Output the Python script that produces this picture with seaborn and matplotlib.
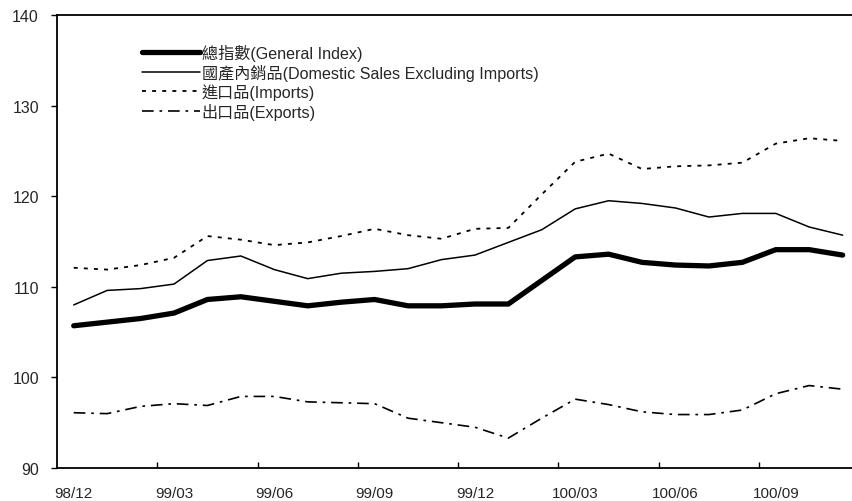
#!/usr/bin/env python3
# -*- coding: utf-8 -*-
"""Price index trend chart (General / Domestic / Imports / Exports), 98/12 - 100/11."""

import matplotlib
matplotlib.use("Agg")
import matplotlib.pyplot as plt  # noqa: E402
from matplotlib.ticker import FixedLocator  # noqa: E402
import pandas as pd  # noqa: E402
import seaborn as sns  # noqa: E402

# =============================================================================
# DATA
# =============================================================================
months = [
    "98/12", "99/01", "99/02", "99/03", "99/04", "99/05", "99/06", "99/07",
    "99/08", "99/09", "99/10", "99/11", "99/12", "100/01", "100/02", "100/03",
    "100/04", "100/05", "100/06", "100/07", "100/08", "100/09", "100/10", "100/11",
]
general_index = [105.7, 106.1, 106.5, 107.1, 108.6, 108.9, 108.4, 107.9,
                 108.3, 108.6, 107.9, 107.9, 108.1, 108.1, 110.7, 113.3,
                 113.6, 112.7, 112.4, 112.3, 112.7, 114.1, 114.1, 113.5]
domestic_sales = [108.0, 109.6, 109.8, 110.3, 112.9, 113.4, 111.9, 110.9,
                  111.5, 111.7, 112.0, 113.0, 113.5, 114.9, 116.3, 118.6,
                  119.5, 119.2, 118.7, 117.7, 118.1, 118.1, 116.6, 115.7]
imports = [112.1, 111.9, 112.4, 113.2, 115.6, 115.2, 114.6, 114.9,
           115.6, 116.4, 115.7, 115.3, 116.4, 116.5, 120.2, 123.8,
           124.7, 123.0, 123.3, 123.4, 123.7, 125.8, 126.4, 126.1]
exports = [96.1, 96.0, 96.8, 97.1, 96.9, 97.9, 97.9, 97.3,
           97.2, 97.1, 95.5, 95.0, 94.5, 93.3, 95.5, 97.6,
           97.0, 96.2, 95.9, 95.9, 96.4, 98.2, 99.1, 98.7]

series_labels = [
    "總指數(General Index)",
    "國產內銷品(Domestic Sales Excluding Imports)",
    "進口品(Imports)",
    "出口品(Exports)",
]
tick_labels = ["98/12", "99/03", "99/06", "99/09", "99/12", "100/03", "100/06", "100/09"]


def main() -> None:
    sns.set_style("white")
    plt.rcParams["font.family"] = ["Liberation Sans", "Noto Sans CJK TC", "DejaVu Sans"]

    df = pd.DataFrame({
        "pos": range(len(months)),
        "month": months,
        "general": general_index,
        "domestic": domestic_sales,
        "imports": imports,
        "exports": exports,
    })

    fig = plt.figure(figsize=(8.53, 5.02), dpi=100)
    ax = fig.add_axes([57 / 853, 1 - 469 / 502, 1 - 57 / 853, (469 - 16) / 502])

    styles = [
        ("general", dict(linewidth=3.8, linestyle="-", solid_capstyle="round")),
        ("domestic", dict(linewidth=1.1, linestyle="-")),
        ("imports", dict(linewidth=1.3, linestyle=(0, (2.2, 3.4)))),
        ("exports", dict(linewidth=1.2, linestyle=(0, (7, 3.5, 1.6, 3.5)))),
    ]
    for (col, kw), label in zip(styles, series_labels):
        sns.lineplot(data=df, x="pos", y=col, color="black", label=label, ax=ax, **kw)

    # axes range: categories centred on integers, plot cut at right edge
    ax.set_xlim(-0.5, 23.31)
    ax.set_ylim(90, 140)
    ax.set_yticks([90, 100, 110, 120, 130, 140])
    ax.set_xlabel("")
    ax.set_ylabel("")

    # tick marks between categories, labels on the categories
    ax.xaxis.set_major_locator(FixedLocator([2.5, 5.5, 8.5, 11.5, 14.5, 17.5, 20.5]))
    ax.xaxis.set_minor_locator(FixedLocator([0, 3, 6, 9, 12, 15, 18, 21]))
    ax.set_xticklabels([], minor=False)
    ax.set_xticklabels(tick_labels, minor=True)
    ax.tick_params(axis="x", which="major", direction="in", length=4, width=1, color="black")
    ax.tick_params(axis="x", which="minor", length=0, pad=13, labelsize=11)
    ax.tick_params(axis="y", direction="out", length=4, width=1, color="black",
                   pad=9, labelsize=11.5)
    ax.tick_params(bottom=True, left=True, which="both")

    for side in ["left", "bottom", "top"]:
        ax.spines[side].set_color("black")
        ax.spines[side].set_linewidth(1.3)
    ax.spines["right"].set_visible(False)

    ax.legend(loc="upper left", bbox_to_anchor=(0.107, 0.936), frameon=False,
              fontsize=11.6, handlelength=3.6, handletextpad=0.1,
              labelspacing=0.17, borderpad=0, borderaxespad=0)

    fig.savefig("out.png", dpi=100)
    plt.close(fig)


if __name__ == "__main__":
    main()
